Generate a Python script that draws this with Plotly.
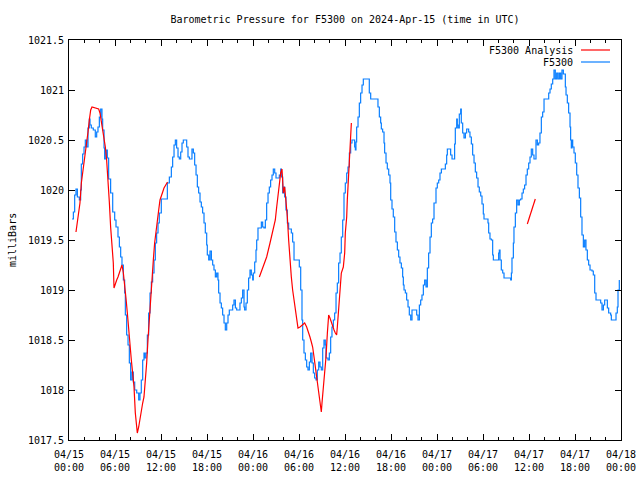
import pandas as pd
import plotly.graph_objects as go

# ---- data (hours since 2024-04-15 00:00 UTC, pressure in mbar) ----
obs_hours = [0.39, 0.57, 0.74, 0.91, 1.09, 1.35, 1.52, 1.61, 1.78, 1.96, 2.13, 2.30, 2.48, 2.65, 2.74, 2.91,
             3.17, 3.43, 3.61, 3.78, 3.96, 4.13, 4.30, 4.39, 4.57, 4.65, 4.83, 5.00, 5.17, 5.43, 5.70, 5.96,
             6.13, 6.39, 6.57, 6.74, 6.91, 7.09, 7.26, 7.35, 7.52, 7.70, 7.87, 8.04, 8.22, 8.39, 8.57, 8.83,
             9.09, 9.26, 9.43, 9.61, 9.78, 9.87, 10.04, 10.22, 10.39, 10.57, 10.74, 10.91, 11.09, 11.26, 11.43,
             11.61, 11.78, 12.04, 12.65, 12.83, 13.09, 13.35, 13.52, 13.70, 13.87, 14.04, 14.22, 14.39, 14.57,
             14.74, 14.91, 15.17, 15.35, 15.52, 15.70, 15.96, 16.04, 16.22, 16.39, 16.57, 16.74, 16.91, 17.09,
             17.26, 17.43, 17.61, 17.78, 17.96, 18.04, 18.22, 18.39, 18.57, 18.74, 18.91, 19.09, 19.26, 19.43,
             19.52, 19.70, 19.87, 20.04, 20.22, 20.39, 20.57, 20.74, 20.91, 21.17, 21.35, 21.52, 21.70, 21.87,
             22.13, 22.30, 22.48, 22.65, 22.83, 22.91, 23.09, 23.26, 23.43, 23.61, 23.78, 23.96, 24.04, 24.22,
             24.39, 24.48, 24.65, 24.91, 25.09, 25.26, 25.43, 25.61, 25.78, 25.96, 26.13, 26.30, 26.48, 26.65,
             26.83, 27.00, 27.35, 27.43, 27.61, 27.70, 27.87, 27.96, 28.13, 28.30, 28.48, 28.65, 29.00, 29.17,
             29.35, 29.96, 30.04, 30.22, 30.39, 30.48, 30.65, 30.83, 31.00, 31.17, 31.35, 31.52, 31.70, 31.87,
             32.04, 32.22, 32.39, 32.57, 32.74, 32.91, 33.09, 33.26, 33.43, 33.52, 33.78, 33.96, 34.13, 34.30,
             34.48, 34.65, 34.83, 35.00, 35.17, 35.35, 35.52, 35.70, 35.87, 36.04, 36.22, 36.39, 36.57, 36.74,
             36.91, 37.09, 37.26, 37.35, 37.43, 37.52, 37.70, 37.87, 38.04, 38.22, 38.39, 39.09, 39.17, 39.35,
             40.13, 40.30, 40.48, 40.65, 40.74, 40.91, 41.09, 41.17, 41.35, 41.52, 41.70, 41.87, 41.96, 42.13,
             42.30, 42.48, 42.65, 42.83, 43.00, 43.17, 43.35, 43.52, 43.61, 43.70, 43.87, 44.04, 44.22, 44.39,
             44.57, 44.74, 45.17, 45.35, 45.52, 45.70, 45.87, 46.04, 46.22, 46.39, 46.57, 46.74, 46.91, 47.09,
             47.26, 47.43, 47.61, 47.87, 48.04, 48.22, 48.39, 48.57, 49.09, 49.26, 49.35, 49.61, 49.78, 49.96,
             50.13, 50.30, 50.39, 50.57, 50.65, 50.74, 50.91, 51.09, 51.17, 51.35, 51.52, 51.70, 51.87, 52.13,
             52.30, 52.48, 52.65, 52.83, 53.00, 53.17, 53.35, 53.52, 53.70, 53.87, 54.04, 54.13, 54.65, 54.74,
             54.91, 55.09, 55.26, 55.35, 55.87, 56.04, 56.13, 56.22, 56.39, 56.57, 56.74, 57.61, 57.70, 57.78,
             57.96, 58.04, 58.22, 58.39, 58.57, 58.74, 58.91, 59.09, 59.26, 59.43, 59.61, 59.78, 59.96, 60.13,
             60.30, 60.48, 60.65, 60.91, 61.09, 61.26, 61.43, 61.61, 61.78, 61.96, 62.39, 62.57, 62.74, 62.91,
             63.09, 63.26, 63.43, 63.61, 63.78, 63.96, 64.13, 64.30, 64.48, 64.74, 64.83, 65.00, 65.17, 65.35,
             65.43, 65.52, 65.61, 65.70, 65.87, 66.04, 66.22, 66.39, 66.57, 66.74, 66.91, 67.09, 67.26, 67.43,
             67.61, 67.78, 67.96, 68.22, 68.39, 68.57, 68.74, 69.17, 69.35, 69.52, 69.70, 69.87, 70.04, 70.22,
             70.39, 70.65, 70.74, 71.17, 71.35, 71.52, 71.61, 71.78]
obs_mb = [1019.71, 1019.78, 1019.95, 1020.01, 1019.93, 1019.90, 1020.00, 1020.26, 1020.36, 1020.43, 1020.50,
          1020.43, 1020.62, 1020.71, 1020.65, 1020.62, 1020.60, 1020.53, 1020.58, 1020.63, 1020.73, 1020.81,
          1020.71, 1020.60, 1020.42, 1020.31, 1020.40, 1020.32, 1020.11, 1019.97, 1019.78, 1019.70, 1019.63,
          1019.53, 1019.43, 1019.33, 1019.25, 1019.10, 1018.97, 1018.75, 1018.55, 1018.45, 1018.27, 1018.10,
          1018.18, 1018.08, 1018.00, 1017.97, 1017.90, 1017.97, 1018.10, 1018.30, 1018.37, 1018.32, 1018.37,
          1018.55, 1018.77, 1018.97, 1019.08, 1019.17, 1019.30, 1019.47, 1019.57, 1019.67, 1019.77, 1019.91,
          1019.91, 1020.07, 1020.13, 1020.23, 1020.33, 1020.45, 1020.50, 1020.42, 1020.33, 1020.31, 1020.38,
          1020.47, 1020.50, 1020.50, 1020.43, 1020.33, 1020.31, 1020.31, 1020.41, 1020.37, 1020.25, 1020.15,
          1020.03, 1019.97, 1019.88, 1019.83, 1019.77, 1019.67, 1019.57, 1019.45, 1019.35, 1019.30, 1019.39,
          1019.30, 1019.25, 1019.20, 1019.13, 1019.17, 1019.10, 1018.97, 1018.87, 1018.82, 1018.75, 1018.67,
          1018.60, 1018.67, 1018.75, 1018.80, 1018.80, 1018.85, 1018.90, 1018.82, 1018.80, 1018.80, 1018.87,
          1018.92, 1019.00, 1018.83, 1018.80, 1018.87, 1019.00, 1019.12, 1019.20, 1019.15, 1019.10, 1019.17,
          1019.28, 1019.40, 1019.50, 1019.62, 1019.62, 1019.68, 1019.63, 1019.62, 1019.70, 1019.87, 1019.97,
          1020.03, 1020.10, 1020.15, 1020.21, 1020.17, 1020.12, 1020.12, 1020.15, 1020.21, 1020.13, 1019.97,
          1020.03, 1019.93, 1019.80, 1019.67, 1019.61, 1019.57, 1019.48, 1019.30, 1019.30, 1019.23, 1019.00,
          1018.70, 1018.50, 1018.37, 1018.30, 1018.23, 1018.20, 1018.28, 1018.37, 1018.27, 1018.17, 1018.12,
          1018.10, 1018.20, 1018.28, 1018.23, 1018.20, 1018.42, 1018.50, 1018.45, 1018.32, 1018.30, 1018.37,
          1018.53, 1018.63, 1018.70, 1018.77, 1018.97, 1019.07, 1019.27, 1019.37, 1019.53, 1019.70, 1019.97,
          1020.07, 1020.17, 1020.23, 1020.37, 1020.47, 1020.50, 1020.50, 1020.43, 1020.40, 1020.48, 1020.63,
          1020.73, 1020.87, 1020.97, 1021.05, 1021.11, 1021.11, 1020.97, 1020.91, 1020.91, 1020.83, 1020.73,
          1020.67, 1020.61, 1020.58, 1020.47, 1020.37, 1020.27, 1020.21, 1020.15, 1020.07, 1019.90, 1019.81,
          1019.73, 1019.58, 1019.48, 1019.40, 1019.33, 1019.27, 1019.22, 1019.13, 1019.05, 1019.00, 1018.97,
          1018.90, 1018.83, 1018.75, 1018.70, 1018.80, 1018.80, 1018.75, 1018.70, 1018.85, 1018.90, 1018.95,
          1019.05, 1019.10, 1019.03, 1019.22, 1019.37, 1019.53, 1019.67, 1019.71, 1019.87, 1020.02, 1020.07,
          1020.10, 1020.17, 1020.21, 1020.26, 1020.35, 1020.41, 1020.41, 1020.35, 1020.31, 1020.31, 1020.46,
          1020.62, 1020.71, 1020.65, 1020.62, 1020.76, 1020.81, 1020.67, 1020.57, 1020.52, 1020.57, 1020.61,
          1020.58, 1020.53, 1020.46, 1020.35, 1020.27, 1020.18, 1020.12, 1020.03, 1019.98, 1019.94, 1019.86,
          1019.76, 1019.71, 1019.67, 1019.57, 1019.51, 1019.50, 1019.35, 1019.30, 1019.30, 1019.37, 1019.40,
          1019.30, 1019.20, 1019.17, 1019.12, 1019.10, 1019.17, 1019.32, 1019.47, 1019.63, 1019.77, 1019.90,
          1019.85, 1019.90, 1019.91, 1019.97, 1020.01, 1020.05, 1020.15, 1020.21, 1020.27, 1020.33, 1020.41,
          1020.35, 1020.31, 1020.50, 1020.45, 1020.47, 1020.57, 1020.73, 1020.78, 1020.91, 1020.91, 1020.97,
          1021.01, 1021.06, 1021.11, 1021.20, 1021.11, 1021.17, 1021.11, 1021.17, 1021.11, 1021.20, 1021.16,
          1021.03, 1020.95, 1020.87, 1020.77, 1020.63, 1020.50, 1020.42, 1020.50, 1020.43, 1020.37, 1020.27,
          1020.15, 1020.02, 1019.92, 1019.73, 1019.55, 1019.43, 1019.50, 1019.40, 1019.30, 1019.25, 1019.20,
          1019.19, 1019.15, 1018.97, 1018.90, 1018.90, 1018.87, 1018.80, 1018.85, 1018.90, 1018.90, 1018.82,
          1018.77, 1018.75, 1018.70, 1018.70, 1018.77, 1018.83, 1019.00, 1019.10]

# Analysis series: None marks gaps between segments
ana_hours = [0.91, 1.09, 1.26, 1.43, 1.61, 1.78, 1.96, 2.13, 2.30, 2.48, 2.65, 2.83, 3.00, 3.52, 3.87, 4.04,
             4.22, 4.39, 4.57, 4.74, 4.91, 5.09, 5.26, 5.43, 5.61, 5.78, 5.87, 6.04, 6.22, 6.39, 6.57, 6.74,
             6.91, 7.09, 7.26, 7.43, 7.61, 7.78, 7.96, 8.13, 8.30, 8.48, 8.65, 8.83, 8.91, 9.09, 9.26, 9.43,
             9.61, 9.78, 9.96, 10.13, 10.30, 10.48, 10.65, 10.83, 11.00, 11.17, 11.35, 11.52, 11.70, 11.87,
             12.04, 12.22, 12.39, 12.57, 12.85, 18.5,
             24.83, 25.35, 25.78, 26.22, 26.65, 26.91, 27.09, 27.26, 27.43, 27.61, 27.78, 27.87, 27.96, 28.13,
             28.30, 28.48, 28.65, 28.83, 29.00, 29.17, 29.35, 29.52, 29.70, 29.87, 30.13, 30.39, 30.74, 31.00,
             31.26, 31.43, 31.61, 31.78, 31.96, 32.13, 32.30, 32.48, 32.65, 32.83, 32.91, 33.00, 33.17, 33.35,
             33.52, 33.70, 33.87, 34.04, 34.22, 34.39, 34.57, 34.74, 34.91, 35.00, 35.17, 35.35, 35.52, 35.78,
             35.96, 36.04, 36.22, 36.30, 36.39, 36.48, 36.57, 36.65, 36.74, 36.83, 48.0,
             59.78, 60.30, 60.82]
ana_mb = [1019.58, 1019.70, 1019.77, 1019.87, 1020.07, 1020.17, 1020.25, 1020.33, 1020.43, 1020.58, 1020.70,
          1020.80, 1020.83, 1020.82, 1020.81, 1020.77, 1020.68, 1020.60, 1020.53, 1020.43, 1020.30, 1020.13,
          1019.88, 1019.63, 1019.47, 1019.27, 1019.02, 1019.07, 1019.10, 1019.13, 1019.17, 1019.22, 1019.25,
          1019.17, 1019.07, 1018.92, 1018.77, 1018.58, 1018.43, 1018.30, 1018.17, 1018.03, 1017.77, 1017.63,
          1017.57, 1017.63, 1017.72, 1017.80, 1017.87, 1017.93, 1018.07, 1018.27, 1018.50, 1018.73, 1018.97,
          1019.17, 1019.30, 1019.47, 1019.60, 1019.70, 1019.80, 1019.90, 1019.95, 1019.98, 1020.02, 1020.04,
          1020.08, None,
          1019.13, 1019.23, 1019.33, 1019.47, 1019.60, 1019.70, 1019.83, 1019.93, 1020.07, 1020.17, 1020.21,
          1020.10, 1019.97, 1020.03, 1019.90, 1019.73, 1019.50, 1019.27, 1019.13, 1019.00, 1018.90, 1018.77,
          1018.67, 1018.62, 1018.63, 1018.65, 1018.67, 1018.63, 1018.58, 1018.53, 1018.48, 1018.43, 1018.33,
          1018.23, 1018.13, 1018.07, 1017.97, 1017.83, 1017.78, 1017.87, 1018.00, 1018.17, 1018.33, 1018.57,
          1018.75, 1018.72, 1018.67, 1018.63, 1018.60, 1018.57, 1018.55, 1018.63, 1018.83, 1019.03, 1019.17,
          1019.23, 1019.37, 1019.57, 1019.73, 1019.90, 1020.03, 1020.18, 1020.30, 1020.47, 1020.57, 1020.67,
          None,
          1019.66, 1019.79, 1019.91]

y_ticks = [1017.5, 1018, 1018.5, 1019, 1019.5, 1020, 1020.5, 1021, 1021.5]
y_labels = ["1017.5", "1018", "1018.5", "1019", "1019.5", "1020", "1020.5", "1021", "1021.5"]
x_tick_hours = [0, 6, 12, 18, 24, 30, 36, 42, 48, 54, 60, 66, 72]
x_tick_labels = ["04/15<br>00:00", "04/15<br>06:00", "04/15<br>12:00", "04/15<br>18:00",
                 "04/16<br>00:00", "04/16<br>06:00", "04/16<br>12:00", "04/16<br>18:00",
                 "04/17<br>00:00", "04/17<br>06:00", "04/17<br>12:00", "04/17<br>18:00",
                 "04/18<br>00:00"]

base = pd.Timestamp("2024-04-15 00:00")
to_t = lambda hrs: [base + pd.Timedelta(hours=h) for h in hrs]

FONT = "DejaVu Sans Mono"
RED = "#ff0000"
BLUE = "#0a7fff"

fig = go.Figure()
fig.add_trace(go.Scatter(x=to_t(obs_hours), y=obs_mb, mode="lines", name="F5300",
                         line=dict(color=BLUE, width=1.2, shape="hv"), showlegend=False))
fig.add_trace(go.Scatter(x=to_t(ana_hours), y=ana_mb, mode="lines", name="F5300 Analysis",
                         line=dict(color=RED, width=1.2), connectgaps=False, showlegend=False))

fig.update_layout(
    width=640, height=480,
    margin=dict(l=69, r=19, t=40, b=40, autoexpand=False),
    paper_bgcolor="white", plot_bgcolor="white",
    font=dict(family=FONT, size=10, color="black"),
    title=dict(text="Barometric Pressure for F5300 on 2024-Apr-15 (time in UTC)",
               x=0.5, xref="paper", y=1 - 19 / 480, yref="container",
               xanchor="center", yanchor="middle", font=dict(family=FONT, size=10)),
    xaxis=dict(range=[base, base + pd.Timedelta(hours=72)],
               tickvals=to_t(x_tick_hours), ticktext=x_tick_labels, automargin=False,
               ticks="inside", ticklen=6, tickcolor="black", tickwidth=1, ticklabelstandoff=5,
               minor=dict(ticks="inside", ticklen=3, dtick=2 * 3600 * 1000, tickcolor="black"),
               showline=True, linecolor="black", linewidth=1, mirror="ticks",
               showgrid=False, zeroline=False),
    yaxis=dict(range=[1017.5, 1021.5], tickvals=y_ticks, ticktext=y_labels, automargin=False,
               ticks="inside", ticklen=6, tickcolor="black", tickwidth=1, ticklabelstandoff=2,
               showline=True, linecolor="black", linewidth=1, mirror="ticks",
               showgrid=False, zeroline=False),
)

# y-axis title
fig.add_annotation(text="milliBars", xref="paper", yref="paper", x=(12 - 69) / 552, y=0.5,
                   xanchor="center", yanchor="middle", textangle=-90, showarrow=False,
                   font=dict(family=FONT, size=10))

# gnuplot-style legend (text right, line sample after it)
legend_items = [("F5300 Analysis", RED, 50), ("F5300", BLUE, 62)]
for label, color, ypx in legend_items:
    yp = 1 - (ypx - 40) / 400
    fig.add_annotation(text=label, xref="paper", yref="paper", x=(575 - 69) / 552, y=yp,
                       xanchor="right", yanchor="middle", showarrow=False,
                       font=dict(family=FONT, size=10))
    fig.add_shape(type="line", xref="paper", yref="paper",
                  x0=(581 - 69) / 552, x1=(610 - 69) / 552, y0=yp, y1=yp,
                  line=dict(color=color, width=1.2))

fig.write_html("out.html")
